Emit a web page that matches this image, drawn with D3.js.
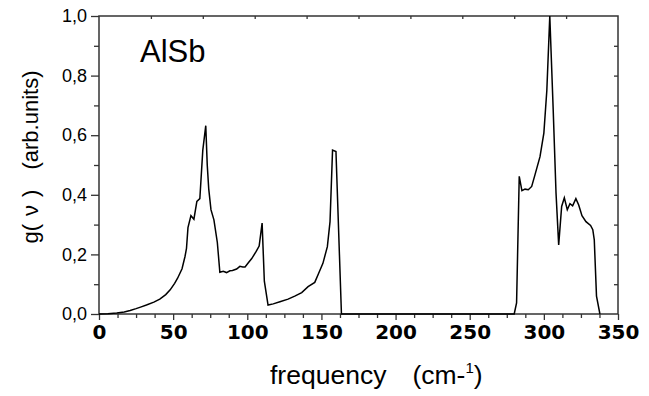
<!DOCTYPE html>
<html>
<head>
<meta charset="utf-8">
<script src="https://cdn.jsdelivr.net/npm/d3@7"></script>
<style>
  body { margin: 0; background: #fff; }
  svg { display: block; }
  text { font-family: "Liberation Sans", Arial, sans-serif; fill: #000; }
</style>
</head>
<body>
<div id="chart"></div>
<script>
// phonon density of states, AlSb
const freq = [0, 6, 12, 17, 21, 25, 28, 32, 37, 41, 45, 48, 51, 53, 56, 58, 59, 60, 62, 64,
  66, 68, 70, 72, 73, 74, 75.5, 77.5, 79.8, 81.5, 83.8, 86, 88.3, 90, 92.8, 95, 97, 98.5,
  100.7, 103, 106, 108, 110, 111.5, 114, 117.5, 122, 127.5, 132, 136.7, 141, 145.5, 148,
  151, 154, 155.8, 157.5, 159.8, 163.5, 200, 250, 280, 281.6, 283.4, 285.2, 287.3, 289.5,
  291.8, 294, 297.4, 300, 302, 304, 306.3, 308.2, 310, 312, 313.8, 315.8, 317.6, 319.4,
  321.6, 323.5, 325.7, 328.4, 331.5, 333, 334, 335.5, 337.8];
const dos = [0, 0.001, 0.003, 0.007, 0.012, 0.018, 0.023, 0.03, 0.04, 0.05, 0.065, 0.081,
  0.103, 0.12, 0.152, 0.193, 0.22, 0.29, 0.33, 0.318, 0.378, 0.387, 0.55, 0.632, 0.5, 0.42,
  0.35, 0.316, 0.24, 0.14, 0.143, 0.139, 0.145, 0.146, 0.151, 0.16, 0.158, 0.158, 0.172,
  0.186, 0.21, 0.228, 0.305, 0.11, 0.03, 0.034, 0.041, 0.05, 0.06, 0.072, 0.092, 0.106,
  0.135, 0.17, 0.226, 0.31, 0.55, 0.545, 0, 0, 0, 0, 0.037, 0.462, 0.414, 0.419, 0.417,
  0.428, 0.467, 0.528, 0.607, 0.75, 1.0, 0.685, 0.406, 0.232, 0.361, 0.39, 0.35, 0.37,
  0.363, 0.387, 0.366, 0.33, 0.31, 0.297, 0.283, 0.249, 0.06, 0];

const xTicks = [0, 50, 100, 150, 200, 250, 300, 350];
const yTicks = [0, 0.2, 0.4, 0.6, 0.8, 1.0];
const yTickLabels = ["0,0", "0,2", "0,4", "0,6", "0,8", "1,0"];

const W = 649, H = 396;
const margin = {top: 16, right: 31, bottom: 82, left: 99};
const width = W - margin.left - margin.right;
const height = H - margin.top - margin.bottom;

const svg = d3.select("#chart").append("svg")
    .attr("width", W).attr("height", H);
const g = svg.append("g").attr("transform", `translate(${margin.left},${margin.top})`);

const x = d3.scaleLinear().domain([0, 350]).range([0, width]);
const y = d3.scaleLinear().domain([0, 1]).range([height, 0]);

const axisColor = "#333";

// minor ticks
const xMinor = d3.range(0, 351, 12.5).filter(v => v % 50 !== 0);
const yMinor = d3.range(0.1, 1, 0.2);

const bottomMinorAxis = g.append("g").attr("transform", `translate(0,${height})`)
    .call(d3.axisBottom(x).tickValues(xMinor).tickSize(4).tickFormat(""));
const bottomAxis = g.append("g").attr("transform", `translate(0,${height})`)
    .call(d3.axisBottom(x).tickValues(xTicks).tickSize(6).tickPadding(5).tickFormat(d3.format("d")));
bottomAxis.selectAll("text")
    .style("font-family", "'DejaVu Sans', sans-serif").style("font-weight", "bold")
    .style("font-size", "20px");

const leftMinorAxis = g.append("g")
    .call(d3.axisLeft(y).tickValues(yMinor).tickSize(5).tickFormat(""));
const leftAxis = g.append("g")
    .call(d3.axisLeft(y).tickValues(yTicks).tickSize(8).tickPadding(4)
        .tickFormat((d, i) => yTickLabels[i]));
leftAxis.selectAll("text").style("font-size", "18px");

// top and right: inward ticks
const topAxis = g.append("g")
    .call(d3.axisTop(x).tickValues(d3.range(35, 350, 35)).tickSize(-3).tickFormat(""));
const rightAxis = g.append("g").attr("transform", `translate(${width},0)`)
    .call(d3.axisRight(y).tickValues(d3.range(0.1, 1, 0.1)).tickSize(-4).tickFormat(""));

[bottomMinorAxis, bottomAxis, leftMinorAxis, leftAxis, topAxis, rightAxis].forEach(a => {
    a.select(".domain").remove();
    a.selectAll("line").attr("stroke", axisColor).attr("stroke-width", 1.3);
    a.selectAll("text").attr("fill", "#000");
});

// frame
g.append("rect").attr("x", 0).attr("y", 0).attr("width", width).attr("height", height)
    .attr("fill", "none").attr("stroke", axisColor).attr("stroke-width", 1.5);

// curve
const line = d3.line().x((d, i) => x(freq[i])).y(d => y(d));
g.append("path").datum(dos).attr("d", line)
    .attr("fill", "none").attr("stroke", "#000").attr("stroke-width", 1.5)
    .attr("stroke-linejoin", "miter");

// annotation
svg.append("text").attr("x", 140).attr("y", 62).style("font-size", "31px").text("AlSb");

// x label
const xl = svg.append("text").attr("x", 270).attr("y", 384).style("font-size", "26.5px");
xl.append("tspan").text("frequency");
xl.append("tspan").attr("dx", 26).text("(cm-");
xl.append("tspan").attr("dy", -11).style("font-size", "15px").text("1");
xl.append("tspan").attr("dy", 11).text(")");

// y label
const yl = svg.append("text")
    .attr("transform", "translate(38,157) rotate(-90)")
    .attr("text-anchor", "middle").style("font-size", "22px");
yl.append("tspan").text("g(");
yl.append("tspan").attr("dx", 8).text("ν");
yl.append("tspan").attr("dx", 8).text(")");
yl.append("tspan").attr("dx", 20).text("(arb.units)");
</script>
</body>
</html>
